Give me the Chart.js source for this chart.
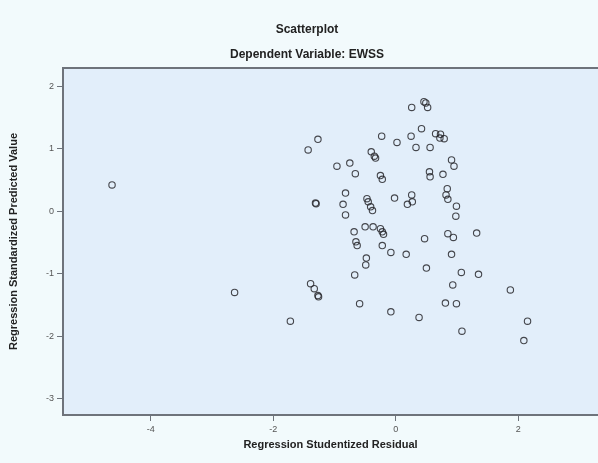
<!DOCTYPE html>
<html>
<head>
<meta charset="utf-8">
<title>Scatterplot</title>
<script src="https://cdn.jsdelivr.net/npm/chart.js@4.4.0/dist/chart.umd.min.js"></script>
<style>
  html, body { margin: 0; padding: 0; background: #f2fafc; }
  #wrap { width: 598px; height: 463px; }
</style>
</head>
<body>
<div id="wrap"><canvas id="chart" width="598" height="463"></canvas></div>
<script>
// one entry per case
const residuals = [
  -4.63, -2.63, -1.72, -1.39, -1.33, -1.27, -1.26, -0.67, -0.59, -0.48,
  -0.49, -0.08, 0.38, -0.68, -0.65, -0.63, -0.22, -0.08, 0.17, 0.47,
  0.50, 0.85, 0.94, 0.91, 0.93, 0.81, 0.99, 1.32, 1.07, 1.35,
  1.87, 2.15, 1.08, 2.09, 0.26, 0.46, 0.49, 0.52, 0.42, -1.27,
  -1.43, -0.23, 0.02, 0.25, 0.33, 0.56, 0.65, 0.73, 0.72, 0.79,
  -0.40, -0.35, -0.33, -0.96, -0.75, -0.66, -0.25, -0.22, 0.55, 0.56,
  0.77, 0.91, 0.95, -0.82, -0.86, -0.82, -1.31, -1.30, -0.47, -0.45,
  -0.41, -0.38, -0.02, 0.19, 0.26, 0.27, 0.84, 0.82, 0.85, 0.99,
  0.98, -0.50, -0.37, -0.25, -0.22, -0.20
];
const predicted = [
  0.42, -1.30, -1.76, -1.16, -1.24, -1.35, -1.37, -1.02, -1.48, -0.75,
  -0.86, -1.61, -1.70, -0.33, -0.49, -0.55, -0.55, -0.66, -0.69, -0.44,
  -0.91, -0.36, -0.42, -0.69, -1.18, -1.47, -1.48, -0.35, -0.98, -1.01,
  -1.26, -1.76, -1.92, -2.07, 1.66, 1.75, 1.73, 1.66, 1.32, 1.15,
  0.98, 1.20, 1.10, 1.20, 1.02, 1.02, 1.24, 1.23, 1.17, 1.16,
  0.95, 0.88, 0.85, 0.72, 0.77, 0.60, 0.57, 0.51, 0.63, 0.55,
  0.59, 0.82, 0.72, 0.29, 0.11, -0.06, 0.13, 0.12, 0.20, 0.15,
  0.07, 0.01, 0.21, 0.11, 0.26, 0.15, 0.36, 0.26, 0.19, 0.08,
  -0.08, -0.25, -0.25, -0.28, -0.33, -0.37
];
const xTicks = [-4, -2, 0, 2];
const yTicks = [-3, -2, -1, 0, 1, 2];

const axisGrey = '#6e737b';
const fontFamily = '"Liberation Sans", Arial, sans-serif';

// page fill, plot fill, top frame line and the two title lines
const frame = {
  id: 'frame',
  beforeDraw(chart) {
    const { ctx, chartArea: a } = chart;
    ctx.save();
    ctx.fillStyle = '#f2fafc';
    ctx.fillRect(0, 0, chart.width, chart.height);
    ctx.fillStyle = '#e2eefa';
    ctx.fillRect(a.left, a.top, a.right - a.left, a.bottom - a.top);
    ctx.strokeStyle = axisGrey;
    ctx.lineWidth = 2;
    ctx.beginPath();
    ctx.moveTo(a.left, a.top);
    ctx.lineTo(a.right, a.top);
    ctx.stroke();

    ctx.fillStyle = '#222';
    ctx.textAlign = 'center';
    ctx.textBaseline = 'middle';
    ctx.font = 'bold 12px ' + fontFamily;
    ctx.fillText('Scatterplot', 307, 30);
    ctx.fillText('Dependent Variable: EWSS', 307, 55);
    ctx.restore();
  }
};

const points = residuals.map((x, i) => ({ x: x, y: predicted[i] }));

new Chart(document.getElementById('chart'), {
  type: 'scatter',
  data: {
    datasets: [{
      data: points,
      pointStyle: 'circle',
      pointRadius: 3.2,
      pointHoverRadius: 3.2,
      backgroundColor: 'rgba(0,0,0,0)',
      borderColor: 'rgba(40,40,45,0.85)',
      borderWidth: 1.1
    }]
  },
  options: {
    responsive: false,
    animation: false,
    devicePixelRatio: 1,
    layout: {
      autoPadding: false,
      padding: { top: 68, right: 0, bottom: 0, left: 0 }
    },
    plugins: {
      legend: { display: false },
      tooltip: { enabled: false }
    },
    scales: {
      x: {
        type: 'linear',
        min: -5.43,
        max: 3.30,
        afterFit(scale) {
          scale.height = 48;
          scale.paddingLeft = 0;
          scale.paddingRight = 0;
        },
        afterBuildTicks(scale) { scale.ticks = xTicks.map(v => ({ value: v })); },
        border: { display: true, color: axisGrey, width: 2 },
        grid: { drawOnChartArea: false, drawTicks: true, tickLength: 6, color: axisGrey },
        ticks: {
          color: '#555',
          font: { family: fontFamily, size: 9 },
          padding: 3,
          maxRotation: 0
        },
        title: {
          display: true,
          text: 'Regression Studentized Residual',
          color: '#222',
          font: { family: fontFamily, size: 11, weight: 'bold' },
          padding: { top: 0, bottom: 11 }
        }
      },
      y: {
        type: 'linear',
        min: -3.26,
        max: 2.29,
        afterFit(scale) {
          scale.width = 63;
          scale.paddingTop = 0;
          scale.paddingBottom = 0;
        },
        afterBuildTicks(scale) { scale.ticks = yTicks.map(v => ({ value: v })); },
        border: { display: true, color: axisGrey, width: 2 },
        grid: { drawOnChartArea: false, drawTicks: true, tickLength: 6, color: axisGrey },
        ticks: {
          color: '#555',
          font: { family: fontFamily, size: 9 },
          padding: 3
        },
        title: {
          display: true,
          text: 'Regression Standardized Predicted Value',
          color: '#222',
          font: { family: fontFamily, size: 11, weight: 'bold' },
          padding: { top: 7, bottom: 0 }
        }
      }
    }
  },
  plugins: [frame]
});
</script>
</body>
</html>
